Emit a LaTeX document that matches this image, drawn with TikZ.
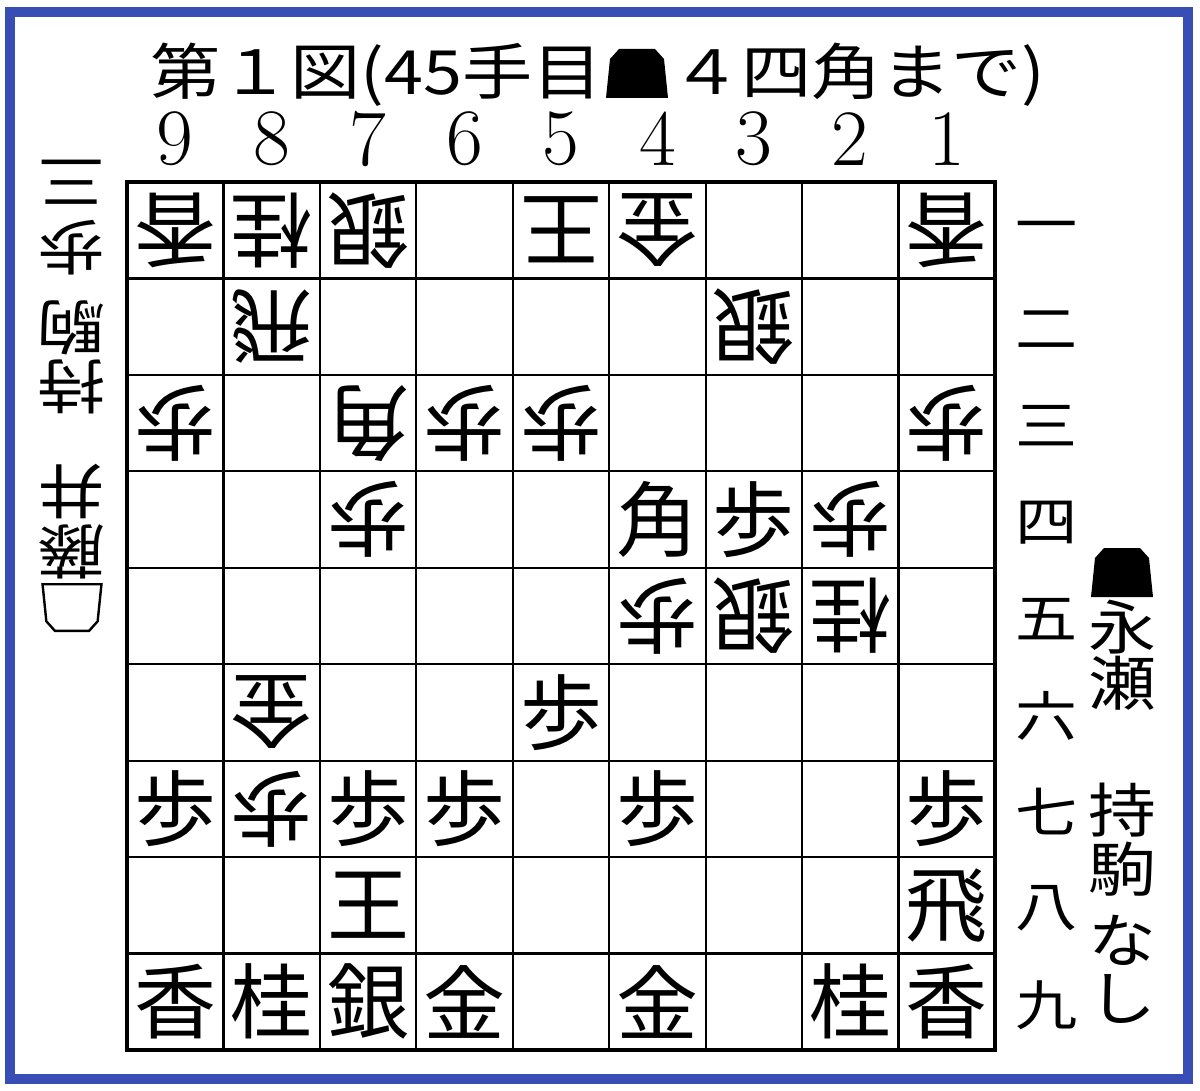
\documentclass[tikz,border=0pt]{standalone}
\usepackage{fontspec}
\newfontfamily\jp{Noto Sans CJK JP}
\newfontfamily\jpw[FakeStretch=1.15]{Noto Sans CJK JP}
\definecolor{frameblue}{RGB}{56,78,180}
\tikzset{
  gridl/.style={line width=2.2pt, black},
  boardl/.style={line width=3.6pt, black},
  spiece/.style={inner sep=0pt, font=\jp\fontsize{82}{82}\selectfont},
  gpiece/.style={spiece, rotate=180},
  colnum/.style={inner sep=0pt, font=\fontsize{80}{80}\selectfont},
  rownum/.style={inner sep=0pt, font=\jpw\fontsize{54}{54}\selectfont},
  lbl/.style={inner sep=0pt, text height=45.6pt, text depth=0pt, font=\jpw\fontsize{59}{59}\selectfont},
  ttl/.style={inner sep=0pt, font=\jpw\fontsize{61}{61}\selectfont},
  koma/.pic={\path[pic actions] (-31,25) -- (31,25) -- (27,-14) -- (18,-24) -- (-18,-24) -- (-27,-14) -- cycle;}
}
\begin{document}
\begin{tikzpicture}[x=1pt,y=-1pt]
\useasboundingbox (0,0) rectangle (1200,1091);
\fill[white] (0,0) rectangle (1200,1091);
\draw[line width=10pt, frameblue] (10,12) rectangle (1188,1079);
% title
\node[ttl, anchor=base east] (title1) at (603,95) {第１図(45手目};
\pic[fill=black] (titlepiece) at (637,73) {koma};
\node[ttl, anchor=base west] (title2) at (671,95) {４四角まで)};
% board
\def\cs{96.444}
\foreach \i in {1,...,8} {
  \draw[gridl] ({127+\i*\cs},182) -- ({127+\i*\cs},1050);
  \draw[gridl] (127,{182+\i*\cs}) -- (995,{182+\i*\cs});
}
\draw[boardl] (127,182) rectangle (995,1050);
% column numbers
\foreach \c in {1,...,9} {
  \node[colnum] (col\c) at ({127+(9.5-\c)*\cs},139) {\c};
}
% row numbers
\foreach \r/\k in {1/一,2/二,3/三,4/四,5/五,6/六,7/七,8/八,9/九} {
  \node[rownum] (row\r) at (1047,{182+(\r-0.5)*\cs+3}) {\k};
}
% gote pieces
\foreach \c/\r/\k in {9/1/香,8/1/桂,7/1/銀,5/1/王,4/1/金,1/1/香,8/2/飛,3/2/銀,9/3/歩,7/3/角,6/3/歩,5/3/歩,1/3/歩,7/4/歩,2/4/歩,4/5/歩,3/5/銀,2/5/桂,8/6/金,8/7/歩} {
  \node[gpiece] (g\c\r) at ({127+(9.5-\c)*\cs},{182+(\r-0.5)*\cs}) {\k};
}
% sente pieces
\foreach \c/\r/\k in {4/4/角,3/4/歩,5/6/歩,9/7/歩,7/7/歩,6/7/歩,4/7/歩,1/7/歩,7/8/王,1/8/飛,9/9/香,8/9/桂,7/9/銀,6/9/金,4/9/金,2/9/桂,1/9/香} {
  \node[spiece] (s\c\r) at ({127+(9.5-\c)*\cs},{182+(\r-0.5)*\cs}) {\k};
}
% left label (gote, rotated)
\foreach \y/\k/\n in {183/三/a,248/歩/b,328/駒/c,387/持/d,492/井/e,552/藤/f} {
  \node[lbl, rotate=180] (left\n) at (72,\y) {\k};
}
\pic[draw=black, fill=white, line width=2.4pt, rotate=180, scale=0.95] (leftpiece) at (72,608) {koma};
% right label (sente)
\pic[fill=black] (rightpiece) at (1122,572) {koma};
\foreach \y/\k/\n in {627/永/a,683/瀬/b,810/持/c,869/駒/d,940/な/e,998/し/f} {
  \node[lbl] (right\n) at (1122,\y) {\k};
}
\end{tikzpicture}
\end{document}
